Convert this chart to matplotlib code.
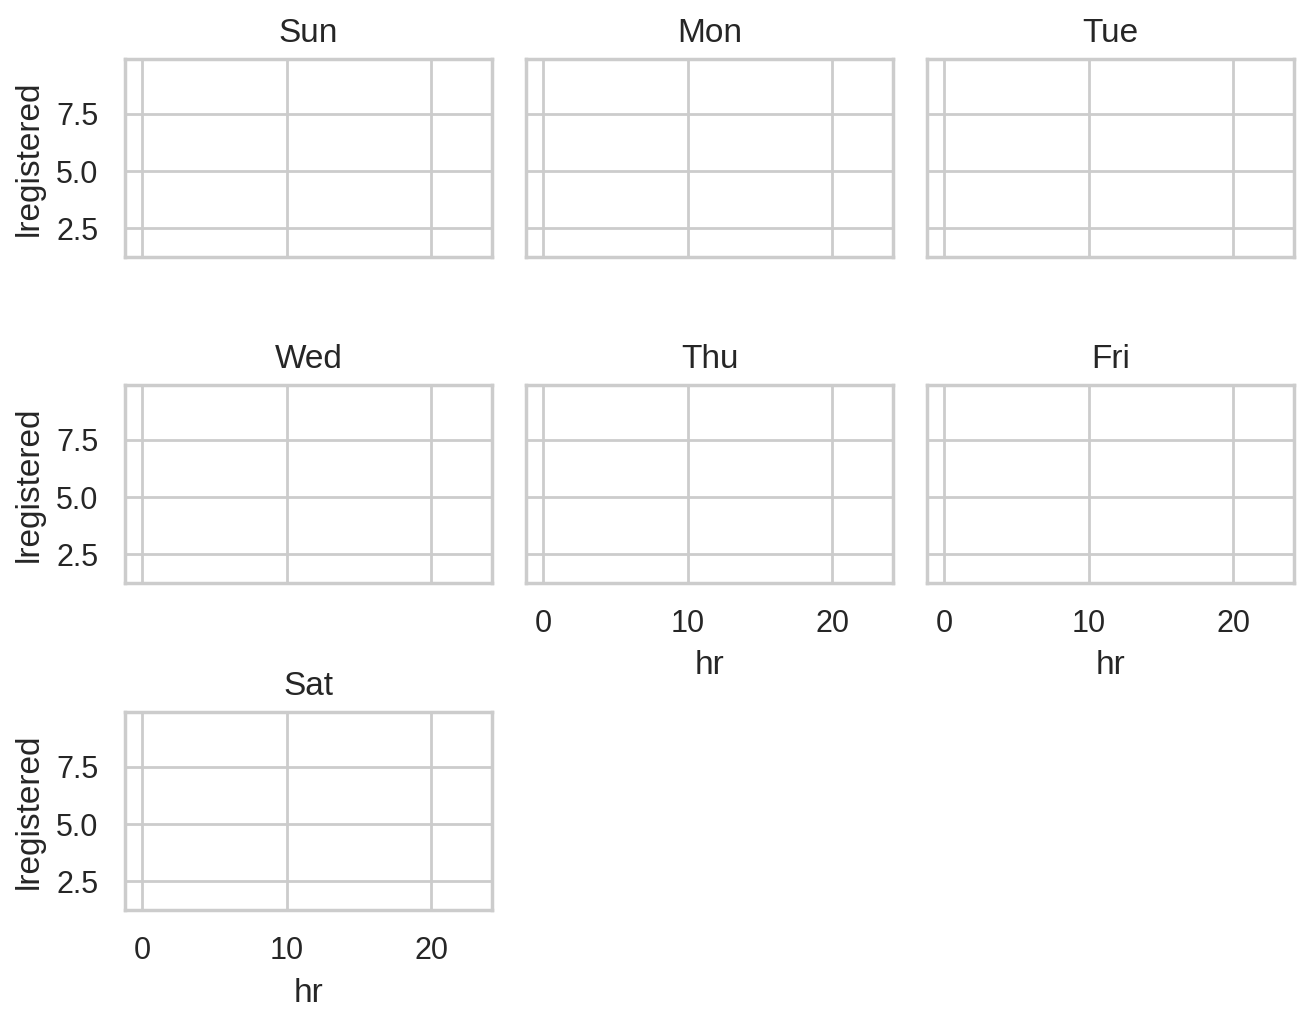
import matplotlib
matplotlib.use("Agg")
import matplotlib.pyplot as plt
import seaborn as sns

days = ["Sun", "Mon", "Tue", "Wed", "Thu", "Fri", "Sat"]
x_ticks = [0, 10, 20]
y_ticks = [2.5, 5.0, 7.5]
x_range = (-1.2, 24.2)
y_range = (1.23, 9.91)

sns.set_theme(style="whitegrid")
plt.rcParams['font.family'] = ['Liberation Sans', 'DejaVu Sans']

W, H = 1313, 1025
fig = plt.figure(figsize=(W / 200, H / 200), dpi=200)
lefts = [125, 526, 927]
tops = [59, 385, 712]
aw, ah = 367, 198

for i, day in enumerate(days):
    r, c = divmod(i, 3)
    ax = fig.add_axes([lefts[c] / W, 1 - (tops[r] + ah) / H, aw / W, ah / H])
    ax.set_xlim(*x_range)
    ax.set_ylim(*y_range)
    ax.set_xticks(x_ticks)
    ax.set_yticks(y_ticks)
    ax.set_title(day)
    bottom_of_col = (i + 3 >= len(days))
    if bottom_of_col:
        ax.set_xlabel("hr")
    else:
        ax.tick_params(labelbottom=False)
    if c == 0:
        ax.set_ylabel("lregistered")
    else:
        ax.tick_params(labelleft=False)

fig.savefig("out.png", dpi=200)
